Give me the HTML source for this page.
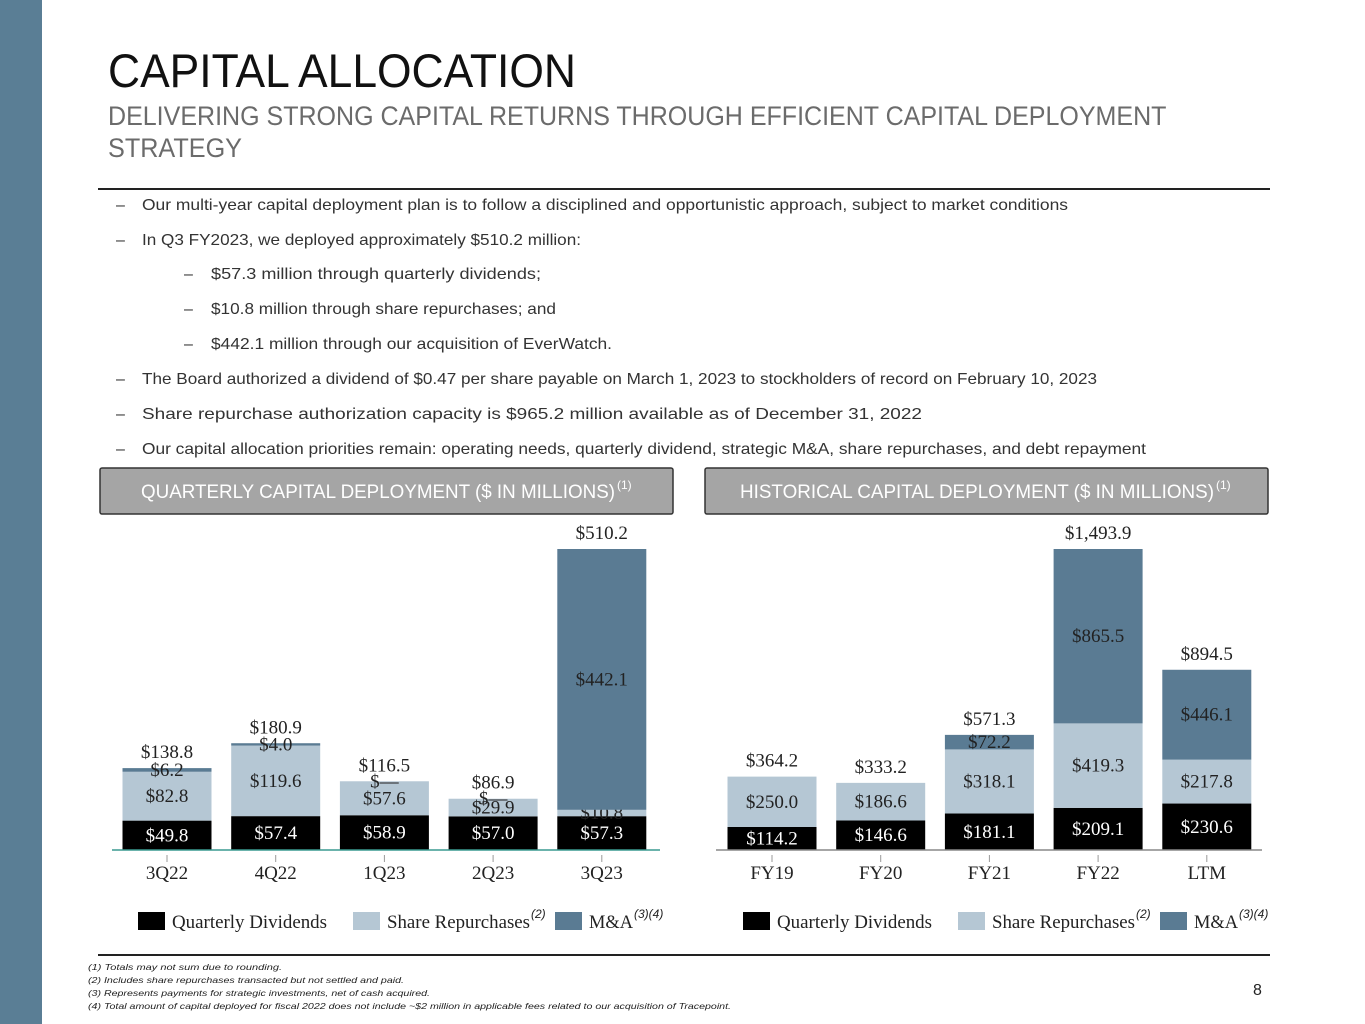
<!DOCTYPE html>
<html><head><meta charset="utf-8"><style>
body{margin:0;width:1365px;height:1024px;background:#fff;overflow:hidden;font-family:"Liberation Sans",sans-serif}
svg{display:block}
</style></head><body>
<svg id="s" width="1365" height="1024" viewBox="0 0 1365 1024" xmlns="http://www.w3.org/2000/svg">
<rect x="0" y="0" width="42" height="1024" fill="#5a7e95"/>
<text x="108" y="87" font-size="47" fill="#111" textLength="468" lengthAdjust="spacingAndGlyphs">CAPITAL ALLOCATION</text>
<text fill="#6b6b6b" font-size="27">
<tspan x="108" y="125" textLength="1058" lengthAdjust="spacingAndGlyphs">DELIVERING STRONG CAPITAL RETURNS THROUGH EFFICIENT CAPITAL DEPLOYMENT</tspan>
<tspan x="108" y="157" textLength="134" lengthAdjust="spacingAndGlyphs">STRATEGY</tspan></text>
<line x1="98" y1="189" x2="1270" y2="189" stroke="#222" stroke-width="2"/>
<g font-size="16" fill="#333">
<text x="116" y="210">–</text><text x="142" y="210" textLength="926" lengthAdjust="spacingAndGlyphs">Our multi-year capital deployment plan is to follow a disciplined and opportunistic approach, subject to market conditions</text>
<text x="116" y="245">–</text><text x="142" y="245" textLength="439" lengthAdjust="spacingAndGlyphs">In Q3 FY2023, we deployed approximately $510.2 million:</text>
<text x="184" y="279">–</text><text x="211" y="279" textLength="330" lengthAdjust="spacingAndGlyphs">$57.3 million through quarterly dividends;</text>
<text x="184" y="314">–</text><text x="211" y="314" textLength="345" lengthAdjust="spacingAndGlyphs">$10.8 million through share repurchases; and</text>
<text x="184" y="349">–</text><text x="211" y="349" textLength="401" lengthAdjust="spacingAndGlyphs">$442.1 million through our acquisition of EverWatch.</text>
<text x="116" y="384">–</text><text x="142" y="384" textLength="955" lengthAdjust="spacingAndGlyphs">The Board authorized a dividend of $0.47 per share payable on March 1, 2023 to stockholders of record on February 10, 2023</text>
<text x="116" y="419">–</text><text x="142" y="419" textLength="780" lengthAdjust="spacingAndGlyphs">Share repurchase authorization capacity is $965.2 million available as of December 31, 2022</text>
<text x="116" y="454">–</text><text x="142" y="454" textLength="1004" lengthAdjust="spacingAndGlyphs">Our capital allocation priorities remain: operating needs, quarterly dividend, strategic M&amp;A, share repurchases, and debt repayment</text>
</g>
<g>
<rect x="100" y="468" width="573" height="46" fill="#a5a5a5" stroke="#333" stroke-width="1.5" rx="2"/>
<text x="141" y="498" font-size="19" fill="#fff" textLength="474" lengthAdjust="spacingAndGlyphs">QUARTERLY CAPITAL DEPLOYMENT ($ IN MILLIONS)</text>
<text x="617" y="489" font-size="12" fill="#fff">(1)</text></g>
<g>
<rect x="705" y="468" width="563" height="46" fill="#a5a5a5" stroke="#333" stroke-width="1.5" rx="2"/>
<text x="740" y="498" font-size="19" fill="#fff" textLength="474" lengthAdjust="spacingAndGlyphs">HISTORICAL CAPITAL DEPLOYMENT ($ IN MILLIONS)</text>
<text x="1216" y="489" font-size="12" fill="#fff">(1)</text></g>
<g id="charts"></g>
<line x1="98" y1="955" x2="1270" y2="955" stroke="#222" stroke-width="2"/>
<g font-size="8.5" font-style="italic" fill="#222">
<text x="88" y="970" textLength="194" lengthAdjust="spacingAndGlyphs">(1) Totals may not sum due to rounding.</text>
<text x="88" y="983" textLength="316" lengthAdjust="spacingAndGlyphs">(2) Includes share repurchases transacted but not settled and paid.</text>
<text x="88" y="996" textLength="342" lengthAdjust="spacingAndGlyphs">(3) Represents payments for strategic investments, net of cash acquired.</text>
<text x="88" y="1009" textLength="643" lengthAdjust="spacingAndGlyphs">(4) Total amount of capital deployed for fiscal 2022 does not include ~$2 million in applicable fees related to our acquisition of Tracepoint.</text>
</g>
<text x="1253" y="995" font-size="16" fill="#222">8</text>
</svg>
<script>
const qCategories=["3Q22","4Q22","1Q23","2Q23","3Q23"];
const qDividends=[49.8,57.4,58.9,57.0,57.3];
const qRepurchases=[82.8,119.6,57.6,29.9,10.8];
const qMA=[6.2,4.0,0,0,442.1];
const qTotals=[138.8,180.9,116.5,86.9,510.2];
const hCategories=["FY19","FY20","FY21","FY22","LTM"];
const hDividends=[114.2,146.6,181.1,209.1,230.6];
const hRepurchases=[250.0,186.6,318.1,419.3,217.8];
const hMA=[0,0,72.2,865.5,446.1];
const hTotals=[364.2,333.2,571.3,1493.9,894.5];

const NS="http://www.w3.org/2000/svg";
const root=document.getElementById('charts');
function el(tag,attrs,parent){const e=document.createElementNS(NS,tag);for(const k in attrs)e.setAttribute(k,attrs[k]);(parent||root).appendChild(e);return e;}
const COLORS=["#000000","#b5c7d4","#5a7b93"];
function fmt(v){return v===0?"$—":"$"+v.toLocaleString("en-US",{minimumFractionDigits:1,maximumFractionDigits:1});}

function drawChart(name,cats,series,totals,x0,step,axisMax,axisX1,axisX2,axisColor,showZero){
  const base=850,top=549,bw=89;
  const y=v=>base-(v/axisMax)*(base-top);
  const g=el('g',{});
  
  
  cats.forEach((c,i)=>{
    const cx=x0+i*step;
    let cum=0;
    series.forEach((s,k)=>{
      const v=s[i];
      const y1=y(cum),y2=y(cum+v);
      if(v>0){
        const r=el('rect',{x:cx-bw/2,y:y2,width:bw,height:y1-y2,fill:COLORS[k]},g);
        
        
      }
      if(v>0||(showZero&&k===2)){
        const t=el('text',{x:cx,y:(y1+y2)/2+6,'text-anchor':'middle','font-family':'Liberation Serif,serif','font-size':19,fill:k===0?'#fff':'#222'},g);
        t.textContent=fmt(v);
        
        
      }
      cum+=v;
    });
    const tt=el('text',{x:cx,y:y(totals[i])-10,'text-anchor':'middle','font-family':'Liberation Serif,serif','font-size':19,fill:'#222'},g);
    tt.textContent=fmt(totals[i]);
    
    
    el('line',{x1:cx,y1:base+5,x2:cx,y2:base+12,stroke:'#999'},g);
    const cl=el('text',{x:cx,y:879,'text-anchor':'middle','font-family':'Liberation Serif,serif','font-size':19,fill:'#222'},g);
    cl.textContent=c;
    
    
  });
  const ax=el('line',{x1:axisX1,y1:base,x2:axisX2,y2:base,stroke:axisColor,'stroke-width':1.5},g);
  
  
}
drawChart('quarterly-chart',qCategories,[qDividends,qRepurchases,qMA],qTotals,167,108.7,510.2,112,660,'#3a9a90',true);
drawChart('historical-chart',hCategories,[hDividends,hRepurchases,hMA],hTotals,772,108.7,1493.9,716,1262,'#888',false);

function legend(name,x){
  const g=el('g',{});
  
  
  const items=[["Quarterly Dividends",0,0,155],["Share Repurchases",1,215,143],["M&A",2,417,44]];
  items.forEach(([lab,k,dx,w])=>{
    el('rect',{x:x+dx,y:912,width:27,height:18,fill:COLORS[k]},g);
    const t=el('text',{x:x+dx+34,y:928,'font-family':'Liberation Serif,serif','font-size':19,fill:'#222',textLength:w,lengthAdjust:'spacingAndGlyphs'},g);
    t.textContent=lab;
    
    
    if(k>0){const s=el('text',{x:x+dx+34+w+1,y:918,'font-size':12,'font-style':'italic',fill:'#222'},g);s.textContent=k===1?"(2)":"(3)(4)";}
  });
}
legend('quarterly-legend',138);
legend('historical-legend',743);
</script>
</body></html>
